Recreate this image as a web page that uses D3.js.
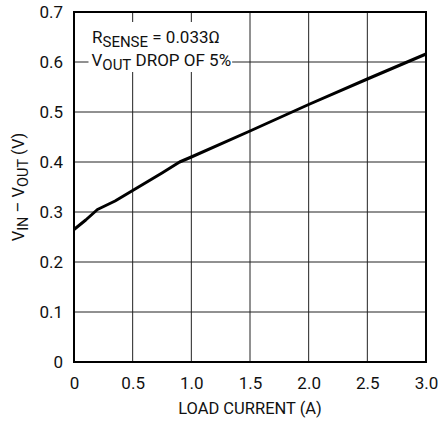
<!DOCTYPE html>
<html>
<head>
<meta charset="utf-8">
<script src="https://cdn.jsdelivr.net/npm/d3@7"></script>
<style>
  body { margin: 0; background: #fff; }
  svg { display: block; font-family: Roboto, "Liberation Sans", Arial, sans-serif; }
</style>
</head>
<body>
<script>
// load current (A) vs dropout voltage (V)
const current = [0, 0.1, 0.2, 0.35, 0.5, 0.75, 0.9, 1.0, 1.5, 2.0, 2.5, 3.0];
const dropout = [0.265, 0.284, 0.305, 0.322, 0.343, 0.378, 0.4, 0.41, 0.462, 0.515, 0.566, 0.616];

const xTicks = [0, 0.5, 1.0, 1.5, 2.0, 2.5, 3.0];
const xTickLabels = ['0', '0.5', '1.0', '1.5', '2.0', '2.5', '3.0'];
const yTicks = [0, 0.1, 0.2, 0.3, 0.4, 0.5, 0.6, 0.7];
const yTickLabels = ['0', '0.1', '0.2', '0.3', '0.4', '0.5', '0.6', '0.7'];

const width = 439;
const height = 421;
const padding = { top: 12, right: 13, bottom: 59, left: 74 };
const innerW = width - padding.left - padding.right;
const innerH = height - padding.top - padding.bottom;

const xScale = d3.scaleLinear().domain([0, 3]).range([0, innerW]);
const yScale = d3.scaleLinear().domain([0, 0.7]).range([innerH, 0]);

const svg = d3.select('body')
  .append('svg')
  .attr('width', width)
  .attr('height', height);

const g = svg.append('g')
  .attr('transform', 'translate(' + padding.left + ',' + padding.top + ')');

// grid
g.append('g')
  .selectAll('line')
  .data(xTicks.slice(1, -1))
  .enter()
  .append('line')
  .attr('x1', (d) => xScale(d))
  .attr('x2', (d) => xScale(d))
  .attr('y1', 0)
  .attr('y2', innerH)
  .style('stroke', '#222')
  .style('stroke-width', 1);

g.append('g')
  .selectAll('line')
  .data(yTicks.slice(1, -1))
  .enter()
  .append('line')
  .attr('x1', 0)
  .attr('x2', innerW)
  .attr('y1', (d) => yScale(d))
  .attr('y2', (d) => yScale(d))
  .style('stroke', '#222')
  .style('stroke-width', 1);

// tick labels
const xAxis = d3.axisBottom(xScale)
  .tickValues(xTicks)
  .tickFormat((d, i) => xTickLabels[i])
  .tickSize(0)
  .tickPadding(15);

const yAxis = d3.axisLeft(yScale)
  .tickValues(yTicks)
  .tickFormat((d, i) => yTickLabels[i])
  .tickSize(0)
  .tickPadding(11);

g.append('g')
  .attr('transform', 'translate(0,' + innerH + ')')
  .call(xAxis)
  .call((a) => a.select('.domain').remove())
  .selectAll('text')
  .style('font-family', 'Roboto, sans-serif')
  .style('font-size', '17px')
  .style('fill', '#111');

g.append('g')
  .call(yAxis)
  .call((a) => a.select('.domain').remove())
  .selectAll('text')
  .style('font-family', 'Roboto, sans-serif')
  .style('font-size', '17px')
  .style('fill', '#111');

// annotation with white backing
const note = g.append('g');
const noteBg = note.append('rect').style('fill', '#fff');

const t1 = note.append('text')
  .attr('x', 18)
  .attr('y', 30.5)
  .style('font-size', '17px')
  .style('fill', '#111');
t1.append('tspan').text('R');
t1.append('tspan').attr('dy', 4).style('font-size', '15px').text('SENSE');
t1.append('tspan').attr('dy', -4).text(' = 0.033Ω');

const t2 = note.append('text')
  .attr('x', 17.5)
  .attr('y', 54)
  .style('font-size', '17px')
  .style('fill', '#111');
t2.append('tspan').text('V');
t2.append('tspan').attr('dy', 4).style('font-size', '15px').text('OUT');
t2.append('tspan').attr('dy', -4).text(' DROP OF 5%');

const b1 = t1.node().getBBox();
const b2 = t2.node().getBBox();
const bx0 = Math.min(b1.x, b2.x) - 3;
const bx1 = Math.max(b1.x + b1.width, b2.x + b2.width) + 1;
noteBg
  .attr('x', bx0)
  .attr('y', 10)
  .attr('width', bx1 - bx0)
  .attr('height', 50);

// curve
const line = d3.line()
  .x((d, i) => xScale(current[i]))
  .y((d) => yScale(d));

g.append('path')
  .datum(dropout)
  .attr('d', line)
  .style('fill', 'none')
  .style('stroke', '#000')
  .style('stroke-width', 3)
  .style('stroke-linejoin', 'round');

// frame
g.append('rect')
  .attr('width', innerW)
  .attr('height', innerH)
  .style('fill', 'none')
  .style('stroke', '#000')
  .style('stroke-width', 2);

// axis titles
svg.append('text')
  .attr('x', padding.left + innerW / 2)
  .attr('y', 414)
  .style('text-anchor', 'middle')
  .style('font-size', '16.5px')
  .style('fill', '#111')
  .text('LOAD CURRENT (A)');

const yl = svg.append('text')
  .attr('transform', 'translate(24,' + (padding.top + innerH / 2) + ') rotate(-90)')
  .style('text-anchor', 'middle')
  .style('font-size', '16.5px')
  .style('fill', '#111');
yl.append('tspan').text('V');
yl.append('tspan').attr('dy', 4).style('font-size', '14.5px').text('IN');
yl.append('tspan').attr('dy', -4).text(' – V');
yl.append('tspan').attr('dy', 4).style('font-size', '14.5px').text('OUT');
yl.append('tspan').attr('dy', -4).text(' (V)');
</script>
</body>
</html>
